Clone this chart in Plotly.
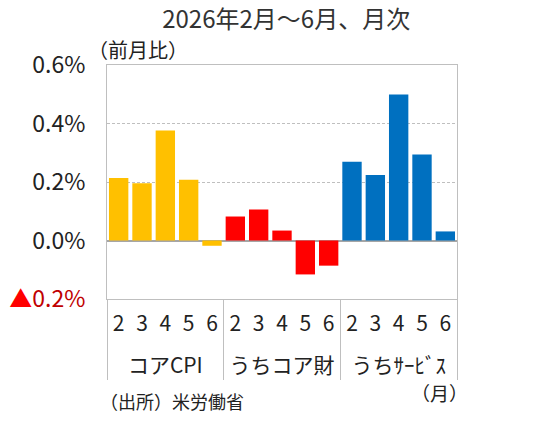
import plotly.graph_objects as go

months = ['2', '3', '4', '5', '6']
groups = ['コアCPI', 'うちコア財', 'うちｻｰﾋﾞｽ']
core_cpi = [0.214, 0.196, 0.376, 0.208, -0.018]
core_goods = [0.082, 0.106, 0.034, -0.116, -0.086]
services = [0.269, 0.224, 0.499, 0.294, 0.031]
colors = ['#FFC000', '#FF0000', '#0070C0']

y_ticks = [-0.2, 0.0, 0.2, 0.4, 0.6]
y_labels = ['<span style="color:#FF0000">▲</span><span style="color:#C00000">0.2%</span>',
            '0.0%', '0.2%', '0.4%', '0.6%']

FONT = 'Noto Sans CJK JP'
# tall hair-space strut around the month digits pushes the group row lower
STRUT = '<span style="font-size:32px">\u200a</span>'

x_outer, x_inner, vals, cols = [], [], [], []
for g, series, c in zip(groups, [core_cpi, core_goods, services], colors):
    x_outer += [g] * len(months)
    x_inner += [STRUT + m + STRUT for m in months]
    vals += series
    cols += [c] * len(months)

fig = go.Figure(go.Bar(
    x=[x_outer, x_inner],
    y=vals,
    marker=dict(color=cols, line_width=0),
))

fig.update_layout(
    width=540, height=421,
    margin=dict(l=107, r=83, t=65, b=122),
    plot_bgcolor='white', paper_bgcolor='white',
    bargap=0.17,
    showlegend=False,
    font=dict(family=FONT, size=21, color='#222222'),
    title=dict(text='2026年2月～6月、月次', x=0.53, xanchor='center', y=0.953, yanchor='middle',
               font=dict(size=24, color='#333333')),
)

fig.update_yaxes(
    range=[-0.2, 0.6], tickvals=y_ticks, ticktext=y_labels,
    showgrid=True, gridcolor='#BFBFBF', griddash='3px,2px', gridwidth=1,
    zeroline=True, zerolinecolor='#A6A6A6', zerolinewidth=1.5,
    showline=True, linecolor='#BFBFBF', mirror=True,
    ticks='', ticklabelstandoff=16, tickfont=dict(size=23), automargin=False,
)
fig.update_xaxes(
    showline=True, linecolor='#BFBFBF', mirror=True,
    showdividers=True, dividercolor='#BFBFBF', dividerwidth=1,
    ticks='', tickmode='linear', tick0=0, dtick=1, tickangle=0,
    ticklabelstandoff=6, tickfont=dict(size=21), automargin=False,
)

fig.add_annotation(text='（前月比）', xref='paper', yref='paper', x=-0.06, y=0.995,
                   xanchor='left', yanchor='bottom', showarrow=False, font=dict(size=20))
fig.add_annotation(text='（出所）米労働省', xref='paper', yref='paper', x=-0.025, y=-0.435,
                   xanchor='left', yanchor='middle', showarrow=False, font=dict(size=18))
fig.add_annotation(text='（月）', xref='paper', yref='paper', x=1.037, y=-0.4,
                   xanchor='right', yanchor='middle', showarrow=False, font=dict(size=19))

fig.write_html('out.html', config={'displayModeBar': False},
               post_script="document.body.style.margin='0';")
